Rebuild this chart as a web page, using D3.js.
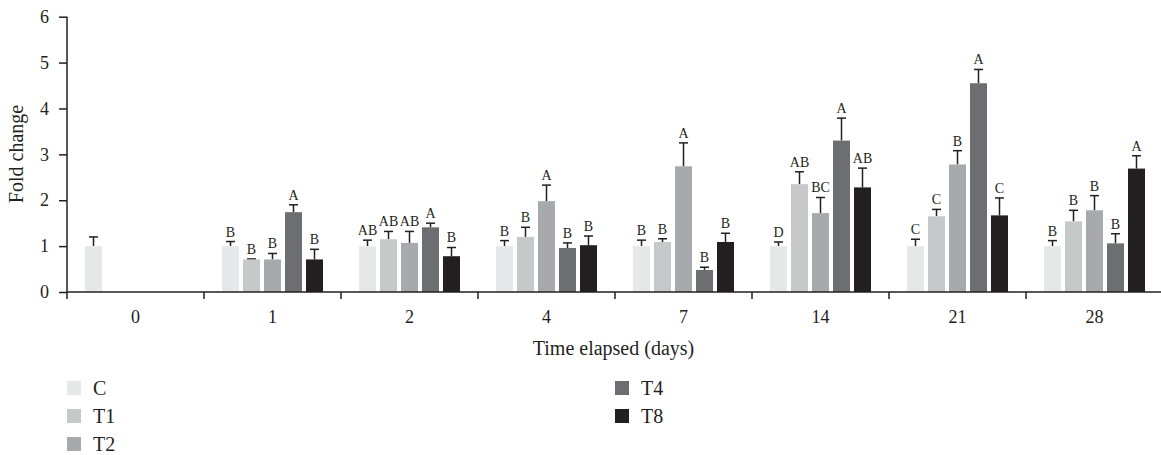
<!DOCTYPE html>
<html>
<head>
<meta charset="utf-8">
<script src="https://cdn.jsdelivr.net/npm/d3@7"></script>
<style>
  body { margin: 0; background: #fff; }
  text { font-family: "Liberation Serif", "DejaVu Serif", serif; fill: #231f20; }
</style>
</head>
<body>
<div id="general"></div>
<script>
const days = ["0", "1", "2", "4", "7", "14", "21", "28"];
const series = ["C", "T1", "T2", "T4", "T8"];
const colors = ["#e6e7e8", "#c7c8ca", "#a7a9ac", "#6d6e71", "#231f20"];
const yTicks = [0, 1, 2, 3, 4, 5, 6];

// mean fold change per series, one value per day (null = not measured)
const valC  = [1.0, 1.0, 1.0, 1.0, 1.0, 1.0, 1.0, 1.0];
const valT1 = [null, 0.71, 1.15, 1.2, 1.09, 2.35, 1.65, 1.54];
const valT2 = [null, 0.71, 1.07, 1.98, 2.74, 1.72, 2.78, 1.78];
const valT4 = [null, 1.74, 1.41, 0.96, 0.48, 3.3, 4.55, 1.06];
const valT8 = [null, 0.71, 0.78, 1.02, 1.09, 2.28, 1.67, 2.69];

// upper error bar
const errC  = [0.2, 0.1, 0.13, 0.12, 0.13, 0.09, 0.15, 0.12];
const errT1 = [null, 0.01, 0.17, 0.21, 0.07, 0.27, 0.15, 0.24];
const errT2 = [null, 0.13, 0.25, 0.35, 0.51, 0.34, 0.30, 0.32];
const errT4 = [null, 0.16, 0.09, 0.11, 0.06, 0.49, 0.30, 0.21];
const errT8 = [null, 0.22, 0.19, 0.20, 0.19, 0.42, 0.38, 0.28];

// significance letters
const letC  = ["", "B", "AB", "B", "B", "D", "C", "B"];
const letT1 = ["", "B", "AB", "B", "B", "AB", "C", "B"];
const letT2 = ["", "B", "AB", "A", "A", "BC", "B", "B"];
const letT4 = ["", "A", "A", "B", "B", "A", "A", "B"];
const letT8 = ["", "B", "B", "B", "B", "AB", "C", "A"];

const vals = [valC, valT1, valT2, valT4, valT8];
const errs = [errC, errT1, errT2, errT4, errT8];
const lets = [letC, letT1, letT2, letT4, letT8];

const w = 1161, h = 455;
const svg = d3.select("#general").append("svg").attr("width", w).attr("height", h);

const x0 = d3.scaleBand().domain(days).range([67, 1163]);
const x1 = d3.scaleBand().domain(series).range([18, 119]).paddingInner(0.19);
const y = d3.scaleLinear().domain([0, 6]).range([292, 16.7]);

const ink = "#231f20";

// bars
const rows = [];
days.forEach((d, di) => {
  series.forEach((s, si) => {
    if (vals[si][di] != null) {
      rows.push({ day: d, s, v: vals[si][di], e: errs[si][di], l: lets[si][di], col: colors[si] });
    }
  });
});

const g = svg.append("g");

// error bars (drawn under bars so only the top half shows)
rows.forEach(r => {
  const cx = x0(r.day) + x1(r.s) + x1.bandwidth() / 2;
  g.append("line")
    .attr("x1", cx).attr("x2", cx)
    .attr("y1", y(r.v)).attr("y2", y(r.v + r.e))
    .attr("stroke", ink).attr("stroke-width", 1.5);
  g.append("line")
    .attr("x1", cx - 4.5).attr("x2", cx + 4.5)
    .attr("y1", y(r.v + r.e)).attr("y2", y(r.v + r.e))
    .attr("stroke", ink).attr("stroke-width", 1.5);
  if (r.l) {
    g.append("text")
      .attr("x", cx).attr("y", y(r.v + r.e) - 5)
      .attr("text-anchor", "middle")
      .attr("font-size", 14)
      .text(r.l);
  }
});

g.selectAll("rect.bar").data(rows).join("rect")
  .attr("class", "bar")
  .attr("x", r => x0(r.day) + x1(r.s))
  .attr("y", r => y(r.v))
  .attr("width", x1.bandwidth())
  .attr("height", r => y(0) - y(r.v))
  .attr("fill", r => r.col);

// y axis
const yAxis = svg.append("g")
  .attr("transform", "translate(67,0)")
  .call(d3.axisLeft(y).tickValues(yTicks).tickSize(8).tickPadding(10).tickFormat(d3.format("d")));
yAxis.selectAll("text").attr("font-size", 18).style("font-family", '"Liberation Serif", serif').attr("fill", ink);
yAxis.selectAll("line, path").attr("stroke", ink).attr("stroke-width", 1.5);
yAxis.select("path").attr("d", `M0,${y(6)}V${y(0)}`);

// x axis: line, boundary ticks, centred labels
svg.append("line")
  .attr("x1", 67).attr("x2", 1163).attr("y1", y(0)).attr("y2", y(0))
  .attr("stroke", ink).attr("stroke-width", 1.5);
days.forEach(d => {
  svg.append("line")
    .attr("x1", x0(d)).attr("x2", x0(d))
    .attr("y1", y(0)).attr("y2", y(0) + 7)
    .attr("stroke", ink).attr("stroke-width", 1.5);
  svg.append("text")
    .attr("x", x0(d) + x0.bandwidth() / 2)
    .attr("y", 323)
    .attr("text-anchor", "middle")
    .attr("font-size", 18)
    .text(d);
});

svg.append("text")
  .attr("x", (67 + 1160) / 2).attr("y", 355)
  .attr("text-anchor", "middle")
  .attr("font-size", 20)
  .text("Time elapsed (days)");

svg.append("text")
  .attr("transform", "translate(23,154) rotate(-90)")
  .attr("text-anchor", "middle")
  .attr("font-size", 20)
  .text("Fold change");

// legend
const legPos = [[67, 388], [67, 416], [67, 444], [615, 388], [615, 416]];
series.forEach((s, i) => {
  const [lx, ly] = legPos[i];
  svg.append("rect")
    .attr("x", lx).attr("y", ly - 7)
    .attr("width", 14).attr("height", 14)
    .attr("fill", colors[i]);
  svg.append("text")
    .attr("x", lx + 26).attr("y", ly + 6.5)
    .attr("font-size", 20)
    .text(s);
});
</script>
</body>
</html>
